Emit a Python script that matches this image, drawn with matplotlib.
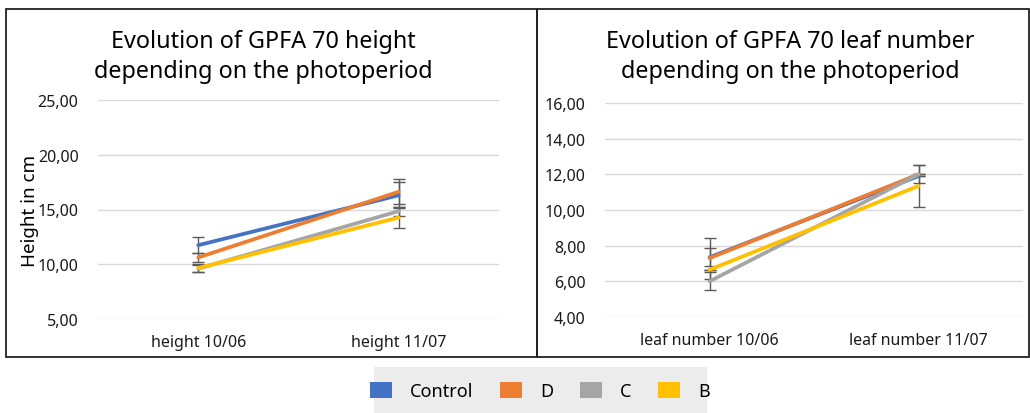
import matplotlib.pyplot as plt
from matplotlib.patches import Rectangle, Patch
from matplotlib.ticker import FuncFormatter

plt.rcParams['font.family'] = ['Noto Sans', 'DejaVu Sans']

series = ['Control', 'D', 'C', 'B']
colors = ['#4472C4', '#ED7D31', '#A5A5A5', '#FFC000']

height_cats = ['height 10/06', 'height 11/07']
height_vals = {
    'Control': [11.74, 16.30],
    'D': [10.62, 16.62],
    'C': [9.60, 14.85],
    'B': [9.66, 14.27],
}
height_err = {
    'Control': [0.73, 1.20],
    'D': [0.40, 1.12],
    'C': [0.35, 0.40],
    'B': [0.40, 1.00],
}

leaf_cats = ['leaf number 10/06', 'leaf number 11/07']
leaf_vals = {
    'Control': [7.35, 11.90],
    'D': [7.30, 12.00],
    'C': [6.00, 12.00],
    'B': [6.65, 11.35],
}
leaf_err = {
    'Control': [0.50, 0.00],
    'D': [1.15, 0.00],
    'C': [0.50, 0.50],
    'B': [0.00, 1.20],
}

W, H = 1030, 414
fig = plt.figure(figsize=(W / 100, H / 100), dpi=100)


def px_axes(x0, x1, ytop, ybot):
    return fig.add_axes([x0 / W, (H - ybot) / H, (x1 - x0) / W, (ybot - ytop) / H])


def draw_panel(ax, cats, vals, errs, ylim, step):
    x = range(len(cats))
    for name, col in zip(series, colors):
        ax.errorbar(x, vals[name], yerr=errs[name], color=col, lw=2.7,
                    ecolor='#5a5a5a', elinewidth=1.0, capsize=4, capthick=1.0,
                    zorder=3, solid_capstyle='round')
    ax.set_xlim(-0.5, len(cats) - 0.5)
    ax.set_ylim(*ylim)
    ax.set_yticks([ylim[0] + i * step for i in range(int((ylim[1] - ylim[0]) / step) + 1)])
    ax.yaxis.set_major_formatter(FuncFormatter(lambda v, p: f'{v:.2f}'.replace('.', ',')))
    ax.set_xticks(list(x))
    ax.set_xticklabels(cats)
    ax.grid(axis='y', color='#d9d9d9', lw=1.0)
    ax.set_axisbelow(True)
    for s in ax.spines.values():
        s.set_visible(False)
    ax.tick_params(length=0, labelsize=11.5, colors='#1a1a1a')
    ax.tick_params(axis='y', pad=14)
    ax.tick_params(axis='x', pad=11)


ax1 = px_axes(98, 499, 101, 320)
draw_panel(ax1, height_cats, height_vals, height_err, (5, 25), 5)
fig.text(30 / W, 1 - 211 / H, 'Height in cm', rotation=90, ha='center', va='center',
         fontsize=13.5)

ax2 = px_axes(605, 1023, 104, 318)
draw_panel(ax2, leaf_cats, leaf_vals, leaf_err, (4, 16), 2)

fig.text(263 / W, 1 - 57 / H, 'Evolution of GPFA 70 height\ndepending on the photoperiod',
         ha='center', va='center', fontsize=16.8, linespacing=1.35)
fig.text(790 / W, 1 - 57 / H, 'Evolution of GPFA 70 leaf number\ndepending on the photoperiod',
         ha='center', va='center', fontsize=16.8, linespacing=1.35)

# panel borders
for x0, x1 in [(6, 537), (537, 1029)]:
    fig.add_artist(Rectangle((x0 / W, (H - 358) / H), (x1 - x0) / W, 348 / H,
                             transform=fig.transFigure, fill=False, ec='#222222', lw=1.3))

# legend
fig.add_artist(Rectangle((374 / W, 0), 333 / W, 46 / H, transform=fig.transFigure,
                         fc='#ececec', ec='none'))
handles = [Patch(facecolor=c, edgecolor='none') for c in colors]
fig.legend(handles, series, loc='center', bbox_to_anchor=(540 / W, 1 - 392 / H), ncol=4,
           frameon=False, fontsize=13, handlelength=1.2, handleheight=1.0,
           columnspacing=1.5, handletextpad=1.0)

fig.savefig('out.png', dpi=100)
